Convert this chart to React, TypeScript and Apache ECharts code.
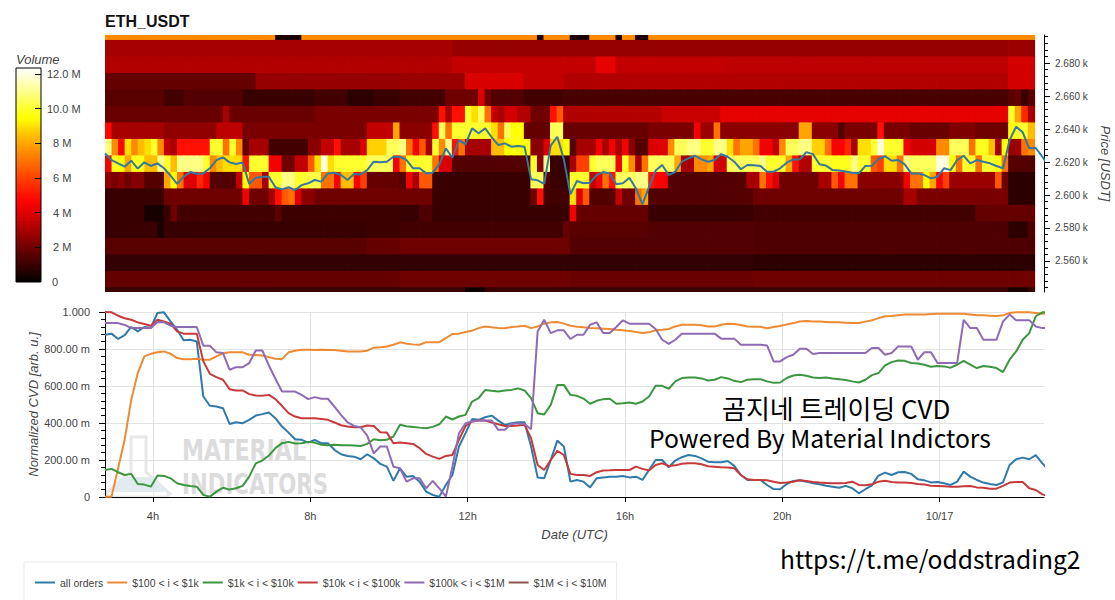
import React, { useEffect, useRef } from "react";
import * as echarts from "echarts";

// ---------- axis data ----------
const startHour = 2.78;
const endHour = 26.655;
const cellHours = 0.1664;
const timeTicks = [4, 8, 12, 16, 20, 24];
const priceTicks = [2560, 2580, 2600, 2620, 2640, 2660, 2680];
const priceMinorTicks = [2544, 2548, 2552, 2556, 2564, 2568, 2572, 2576, 2584, 2588, 2592, 2596, 2604, 2608, 2612, 2616, 2624, 2628, 2632, 2636, 2644, 2648, 2652, 2656, 2664, 2668, 2672, 2676, 2684, 2688, 2692, 2696];
const volumeTicks = [0, 2, 4, 6, 8, 10, 12];
const palette = ["#000000", "#350000", "#690000", "#9e0000", "#d30000", "#ff0400", "#ff3000", "#ff5f00", "#ff8f00", "#ffc000", "#ffff00", "#ffff55", "#ffffaa", "#ffffff"];
const volumeMax = 12.35;
const columnCount = 142;

// ---------- heat rows: pairs of [first column, volume in M] running until the next pair ----------
const r2694 = [0,7.5,26,.5,30,7.5,66,.5,67,7.5,71,.5,74,7.5,78,.5,79,7.5,81,.5,83,7.5];
const r2684 = [0,3.0,53,2.7,138,2.8];
const r2674 = [0,3.2,53,3.5,75,4.2,78,3.5,95,3.4,138,3.8];
const r2664 = [0,1.8,23,2.7,45,2.8,55,3.9,64,3.5,70,3.2,138,3.8];
const r2654 = [0,1.6,9,1.2,12,1.5,21,1.0,32,1.2,37,.8,41,1.0,45,1.2,52,2,57,4,58,2,59,1.5,64,1.2,70,1.3,138,1.6,139,1.8,140,1.0,141,1.6];
const r2644 = [0,1.9,18,3,19,1.9,32,2.2,51,5,52,3,53,5,55,10,56,9,57,10.5,58,7,59,3.5,60,3,61,3.8,63,3.2,65,2,68,5,69,6.5,70,3.2,85,3.6,94,4.2,138,10,139,8,140,5.5,141,3];
const r2634 = [0,4.8,1,3,9,2.6,17,3.4,21,2.2,40,3.5,44,8,45,2.5,50,5,51,10.5,52,7,53,10,59,9,60,7,61,10.5,62,9.5,64,1.8,68,10.5,70,1.9,83,2.2,90,4.5,91,2.8,93,7,94,2.5,106,8,108,2.5,112,1.5,113,2.2,118,5,119,2.2,123,1.9,129,2.3,133,2,138,9.5,139,10,141,8.5];
const r2624 = [0,11,1,7.5,2,4.8,3,9,4,7.5,5,8.5,6,9,7,10,8,7.5,9,3.5,10,3,11,5,16,10,18,7,19,10,20,7.5,21,1.8,22,3,25,1.2,31,2.5,33,3.5,35,5,36,3,39,4,40,8.8,43,10.5,45,11,46,7,47,4.5,48,6.5,49,3,50,10,51,7.5,52,11,53,5,54,7,55,3,59,8.5,61,9.5,65,2.5,67,4,68,9,70,9.5,71,1.5,72,3,75,4.5,76,3,77,4.5,78,3,79,4.5,80,2.5,81,1.5,83,4,86,7.5,87,10.5,89,11,91,10,93,11,95,9,96,7,97,8,99,7,100,4.5,102,3.5,103,7.5,104,10.5,106,11,108,8.8,110,7,111,4.6,113,5.5,114,3,115,9,117,10,118,12,119,10,122,4.5,123,3.8,127,7.5,129,10.5,132,7,133,9.8,135,8.5,136,3,137,9.5,138,2.8,140,7,141,7.5];
const r2614 = [0,4.5,1,9.8,2,9.5,3,8,4,9.8,6,8.5,8,11,9,10,10,8.5,11,11,15,10,16,7.5,17,8.5,18,9,21,5,22,10,25,4.5,27,2,29,3.5,31,6.5,32,9,33,12,34,9,35,10,40,10.5,44,4.5,45,7,46,10,50,7,51,4,53,1.5,65,10,66,2.5,67,11,68,1,71,3,72,6,74,10,75,10.5,78,4.5,79,10,80,7.5,81,3,82,7,83,10.5,87,8,88,3,90,7.5,92,8,93,3.8,95,10.5,100,11,101,10,104,8,105,5,106,3.2,108,10,111,9.8,114,11,115,10,117,6.5,118,6,119,9,121,7,122,11,123,10.5,127,12,129,9.5,130,7,131,10,133,7,134,10,136,9.5,137,7,138,1.5];
const r2604 = [0,2.5,1,2.2,2,2.5,3,2,4,2.4,6,1.5,9,8,10,9.5,11,7,12,4,14,5.5,15,4.5,16,1.5,20,3.5,21,9.5,22,6.5,24,3,25,10,27,11,29,10,31,10.3,33,7,35,4.5,36,8.5,38,4.5,39,6,40,1.8,45,1.5,46,4.5,47,3,48,6.5,50,1,65,10.5,67,1.5,68,1,71,10,74,3.5,75,4.5,76,7,77,5,78,10.5,81,11,83,5,84,4.6,86,1.5,98,3,100,7,101,5,102,4,103,2,109,3,111,6.5,112,4.5,113,7,115,2.5,122,4.5,123,7,125,9.5,126,8,127,4.5,128,6,129,2.8,136,6.5,137,2,138,.8];
const r2594 = [0,1,9,2,21,4.5,22,2,25,3,26,5,27,6.5,28,7,29,4,30,2.5,32,2,50,1,65,2,66,5,67,1.2,71,9,72,4,73,6.5,74,1.5,78,3.5,79,2,81,7,82,8,83,1.5,99,2,122,3,124,2.2,138,.8];
const r2584 = [0,1,6,.4,9,1,10,2,11,1.2,26,1.6,27,1.1,45,1,48,1.4,50,1,71,4.5,72,1.8,83,1,99,1.2,133,1.8];
const r2574 = [0,1,8,.5,9,1,40,1.1,45,1.2,70,1.8,71,1.6,83,1.5,99,1.4,138,.8,141,1.4];
const r2564 = [0,1.6,40,1.8,45,2,71,1.5,99,1.4];
const r2554 = [0,.9,99,.8];
const r2544 = [0,1.8,45,2,71,1.9,99,2];
const r2534 = [0,1,55,.2,58,1,138,.4,141,1];
const heatRows: [number, number[]][] = [[2694,r2694],[2684,r2684],[2674,r2674],[2664,r2664],[2654,r2654],[2644,r2644],[2634,r2634],[2624,r2624],[2614,r2614],[2604,r2604],[2594,r2594],[2584,r2584],[2574,r2574],[2564,r2564],[2554,r2554],[2544,r2544],[2534,r2534]];

// ---------- price line, one value per 10 minutes ----------
const priceLine = [2625.2,2621.2,2619.2,2617.2,2620.8,2616,2619.8,2617.6,2619.2,2616.2,2611.7,2606.7,2611.1,2613.9,2612.9,2613.1,2616.2,2621.2,2622.8,2619.8,2618.8,2619.8,2606.7,2610.5,2611.1,2611.1,2604.7,2603.4,2604.7,2603,2606,2607.1,2609.1,2608.1,2613.1,2613.5,2612.1,2609.1,2612.7,2612.5,2615.1,2620.2,2619.8,2620.2,2623.2,
2623.2,2621.2,2616.2,2616.2,2613.1,2613.5,2618.6,2628.3,2622.6,2633.3,2630.7,2640.4,2637.4,2640.4,2635,2630.3,2631.3,2629.3,2629.7,2629.3,2609.5,2608.9,2606.7,2629.9,2635.3,2621.6,2600.4,2608.5,2607.1,2607.5,2612.1,2613.9,2613.1,2606.5,2607.1,2610.5,2604,2594.5,2605,2614.8,2618.2,2612.1,2614.1,2620.2,2622.2,2623.8,2621.6,2620.2,2621.2,2624.8,2623.2,2620.2,2615.6,2618.2,
2618,2617.6,2614.1,2614.1,2616.2,2619.6,2621.6,2621.6,2626,2624.8,2618.6,2617.8,2615.1,2614.8,2614.3,2613.5,2613.1,2617.6,2617.8,2621.8,2623.6,2620.8,2621.2,2618.6,2613.1,2613.1,2612.1,2610.1,2611.1,2616.2,2615.1,2621.2,2623.8,2619.2,2621.2,2620.2,2619.2,2617.6,2616.2,2633.3,2641.4,2638,2628.3,2628.5,2623.2,2617.2];

// ---------- normalized CVD series, one value per 10 minutes ----------
const allOrders = [.877,.883,.854,.875,.919,.895,.919,.915,.995,.998,.949,.904,.847,.85,.841,.543,.493,.489,.48,.395,.404,.399,.417,.44,.448,.457,.426,.381,.348,.312,.309,.294,.309,.291,.291,.255,.231,.222,.218,.204,.231,.209,.179,.164,.087,
.155,.11,.114,.083,.029,.011,.002,.065,.119,.273,.345,.421,.417,.431,.44,.413,.39,.399,.404,.404,.273,.106,.101,.2,.305,.273,.083,.092,.083,.052,.101,.106,.11,.11,.114,.106,.11,.092,.146,.2,.2,.161,.197,.215,.227,.222,.209,.191,.188,.188,.195,.168,.119,.092,
.092,.092,.065,.043,.042,.07,.087,.09,.083,.074,.069,.061,.056,.05,.06,.047,.02,.042,.063,.116,.132,.119,.134,.135,.125,.096,.09,.079,.081,.074,.065,.083,.137,.11,.092,.078,.07,.065,.079,.173,.204,.213,.204,.226,.182,.146];
const tier100to1k = [.002,.002,.155,.309,.525,.67,.76,.774,.782,.787,.774,.751,.745,.745,.747,.742,.742,.76,.776,.782,.782,.782,.769,.767,.765,.756,.747,.745,.782,.791,.796,.796,.794,.796,.794,.794,.791,.787,.787,.787,.791,.807,.81,.814,.823,
.836,.829,.825,.823,.837,.836,.837,.859,.881,.883,.892,.899,.913,.922,.917,.913,.912,.919,.922,.926,.913,.922,.937,.944,.946,.937,.926,.92,.917,.913,.912,.91,.908,.904,.901,.897,.892,.886,.89,.901,.904,.908,.922,.931,.931,.931,.928,.922,.922,.931,.937,.935,.93,.922,
.92,.92,.912,.919,.924,.933,.94,.949,.951,.949,.948,.946,.944,.944,.942,.94,.94,.948,.955,.967,.977,.978,.982,.986,.986,.987,.987,.989,.991,.991,.991,.991,.991,.987,.982,.982,.98,.978,.982,.995,.998,.998,.998,.995,.991,.991];
const tier1kto10k = [.146,.152,.134,.119,.125,.07,.067,.056,.116,.114,.101,.074,.065,.06,.056,.011,.002,.029,.05,.04,.047,.06,.11,.182,.197,.224,.264,.291,.298,.289,.291,.298,.294,.282,.28,.282,.28,.28,.278,.276,.287,.312,.307,.309,.327,
.39,.383,.379,.375,.372,.379,.393,.435,.419,.435,.444,.516,.534,.579,.574,.57,.576,.579,.587,.576,.534,.453,.446,.498,.606,.606,.552,.547,.532,.504,.52,.529,.531,.504,.507,.511,.504,.516,.543,.601,.601,.585,.625,.643,.646,.646,.641,.63,.634,.648,.641,.628,.621,.634,
.637,.637,.625,.617,.619,.643,.657,.661,.655,.646,.643,.646,.641,.637,.632,.625,.619,.634,.659,.67,.711,.729,.738,.736,.724,.722,.715,.704,.708,.706,.699,.715,.736,.715,.697,.708,.704,.697,.675,.742,.787,.85,.886,.977,.998,.998];
const tier10kto100k = [1,.998,.98,.966,.958,.944,.935,.926,.958,.949,.937,.895,.883,.883,.883,.733,.666,.648,.634,.583,.576,.576,.556,.549,.547,.552,.529,.493,.453,.435,.426,.426,.426,.422,.417,.403,.388,.381,.377,.377,.386,.384,.35,.348,.291,
.294,.291,.287,.264,.233,.218,.206,.222,.227,.309,.384,.408,.413,.413,.403,.393,.384,.384,.386,.39,.318,.173,.146,.2,.249,.227,.125,.119,.119,.114,.134,.143,.144,.146,.146,.146,.164,.152,.143,.173,.182,.168,.171,.18,.182,.182,.177,.166,.164,.161,.159,.155,.119,.096,
.092,.092,.09,.083,.076,.079,.083,.09,.087,.081,.078,.076,.074,.074,.076,.083,.065,.063,.069,.083,.088,.081,.079,.079,.076,.07,.067,.061,.06,.058,.056,.056,.058,.06,.052,.05,.045,.045,.06,.078,.081,.081,.047,.038,.014,.002];
const tier100kto1M = [.94,.94,.94,.93,.913,.913,.913,.913,.946,.944,.926,.919,.919,.919,.919,.818,.818,.782,.778,.688,.702,.702,.724,.792,.792,.711,.639,.57,.57,.57,.552,.529,.54,.531,.531,.489,.444,.404,.384,.377,.332,.236,.273,.273,.164,
.155,.083,.101,.101,.047,.087,.047,.002,.164,.345,.399,.408,.413,.413,.413,.363,.363,.395,.399,.395,.366,.895,.958,.886,.901,.901,.854,.877,.877,.931,.944,.886,.886,.919,.955,.937,.937,.937,.937,.908,.85,.828,.85,.883,.883,.883,.883,.883,.883,.856,.856,.856,.823,.823,
.823,.823,.819,.733,.733,.756,.769,.801,.801,.773,.778,.778,.778,.778,.778,.778,.778,.778,.805,.805,.769,.778,.814,.814,.814,.742,.783,.783,.724,.724,.724,.724,.958,.913,.913,.85,.85,.85,.949,.986,.955,.955,.955,.922,.913,.913];
const tier1Mto10M: number[] = [];

const cvdSeries: [string, number[], string][] = [
  ["all orders", allOrders, "#2f7aa9"],
  ["$100 < i < $1k", tier100to1k, "#ee8a33"],
  ["$1k < i < $10k", tier1kto10k, "#3c953f"],
  ["$10k < i < $100k", tier10kto100k, "#c63a3c"],
  ["$100k < i < $1M", tier100kto1M, "#8f6bb3"],
  ["$1M < i < $10M", tier1Mto10M, "#8c564b"],
];

const TEXT = "#444444";
const FONT = "'Liberation Sans', Arial, sans-serif";
const KR = "'Noto Sans CJK KR', sans-serif";
const WM = "'DejaVu Sans', sans-serif";

function cellRenderer(params: any, api: any) {
  const a = api.coord([api.value(0), api.value(3)]);
  const b = api.coord([api.value(1), api.value(2)]);
  return {
    type: "rect",
    shape: { x: a[0], y: a[1], width: b[0] - a[0] + 0.8, height: b[1] - a[1] + 0.8 },
    style: { fill: api.visual("color") },
  };
}

function toTimed(values: number[]) {
  return values.map((v, i) => [startHour + i / 6, v]);
}

function buildOption() {
  const heatData: number[][] = [];
  heatRows.forEach(([low, runs]) => {
    for (let r = 0; r < runs.length; r += 2) {
      const from = runs[r];
      const to = r + 2 < runs.length ? runs[r + 2] : columnCount;
      for (let c = from; c < to; c++) {
        heatData.push([startHour + c * cellHours, startHour + (c + 1) * cellHours, low, low + 10, runs[r + 1]]);
      }
    }
  });
  const barData: number[][] = [];
  for (let k = 0; k < 124; k++) {
    const lv = k / 10;
    barData.push([0, 1, lv, Math.min(lv + 0.1, volumeMax), lv + 0.05]);
  }

  return {
    animation: false,
    backgroundColor: "#ffffff",
    textStyle: { fontFamily: FONT },
    title: {
      text: "ETH_USDT",
      left: 105,
      top: 13,
      padding: 0,
      textStyle: { fontSize: 16, fontWeight: "bold", color: "#111111", fontFamily: FONT },
    },
    legend: {
      left: 24,
      top: 562,
      padding: [15, 10, 15, 11],
      itemGap: 4,
      itemWidth: 20,
      itemHeight: 2,
      icon: "rect",
      borderColor: "#e8e8e8",
      borderWidth: 1,
      selectedMode: false,
      textStyle: { fontSize: 10.5, color: TEXT, fontFamily: FONT },
      data: cvdSeries.map((s) => s[0]),
    },
    visualMap: {
      show: false,
      type: "continuous",
      min: 0,
      max: volumeMax,
      dimension: 4,
      seriesIndex: [0, 2],
      inRange: { color: palette },
    },
    grid: [
      { left: 105, top: 35, width: 939, height: 257, outerBoundsMode: "none" },
      { left: 105, top: 312, width: 939, height: 185, outerBoundsMode: "none" },
      { left: 16, top: 68, width: 25, height: 214, show: true, borderColor: "#000000", borderWidth: 1, backgroundColor: "transparent", z: 10, outerBoundsMode: "none" },
    ],
    xAxis: [
      { type: "value", gridIndex: 0, min: startHour, max: endHour, show: false },
      {
        type: "value",
        gridIndex: 1,
        min: startHour,
        max: endHour,
        name: "Date (UTC)",
        nameLocation: "middle",
        nameGap: 31,
        nameTextStyle: { fontStyle: "italic", fontSize: 13, color: TEXT, fontFamily: FONT },
        axisLine: { onZero: false, lineStyle: { color: "#000000", width: 1 } },
        axisTick: { show: true, length: 5, lineStyle: { color: "#000000" }, customValues: timeTicks },
        axisLabel: {
          fontSize: 11,
          color: TEXT,
          margin: 13,
          customValues: timeTicks,
          formatter: (v: number) => (v === 24 ? "10/17" : `${v}h`),
        },
        splitLine: { show: true, lineStyle: { color: "#e3e3e3", width: 1 } },
      },
      { type: "value", gridIndex: 2, min: 0, max: 1, show: false },
    ],
    yAxis: [
      {
        type: "value",
        gridIndex: 0,
        position: "right",
        min: 2541.2,
        max: 2697,
        name: "Price [USDT]",
        nameLocation: "middle",
        nameGap: 54,
        nameRotate: -90,
        nameTextStyle: { fontStyle: "italic", fontSize: 13, color: TEXT, fontFamily: FONT },
        axisLine: { show: true, onZero: false, lineStyle: { color: "#000000", width: 1 } },
        axisTick: { show: true, length: 6, lineStyle: { color: "#000000" }, customValues: priceTicks },
        axisLabel: {
          fontSize: 10,
          color: TEXT,
          margin: 11,
          customValues: priceTicks,
          formatter: (v: number) => `${(v / 1000).toFixed(3)} k`,
        },
        splitLine: { show: false },
      },
      {
        type: "value",
        gridIndex: 0,
        position: "right",
        min: 2541.2,
        max: 2697,
        axisLine: { show: false },
        axisTick: { show: true, length: 4, lineStyle: { color: "#000000" }, customValues: priceMinorTicks },
        axisLabel: { show: false },
        splitLine: { show: false },
      },
      {
        type: "value",
        gridIndex: 1,
        min: 0,
        max: 1,
        interval: 0.2,
        name: "Normalized CVD [arb. u.]",
        nameLocation: "middle",
        nameGap: 65,
        nameMoveOverlap: false,
        nameTextStyle: { fontStyle: "italic", fontSize: 13, color: TEXT, fontFamily: FONT },
        axisLine: { show: true, onZero: false, lineStyle: { color: "#000000", width: 1 } },
        axisTick: { show: true, length: 6, lineStyle: { color: "#000000" } },
        minorTick: { show: true, splitNumber: 5, length: 4, lineStyle: { color: "#000000" } },
        axisLabel: {
          fontSize: 11,
          color: TEXT,
          margin: 15,
          formatter: (v: number) => (v === 0 ? "0" : v === 1 ? "1.000" : `${(v * 1000).toFixed(2)} m`),
        },
        splitLine: { show: true, lineStyle: { color: "#e3e3e3", width: 1 } },
      },
      {
        type: "value",
        gridIndex: 2,
        position: "right",
        min: 0,
        max: volumeMax,
        axisLine: { show: false },
        axisTick: { show: false },
        axisLabel: {
          fontSize: 11,
          color: TEXT,
          margin: 6,
          align: "left",
          customValues: volumeTicks,
          formatter: (v: number) => (v >= 10 ? `${v.toFixed(1)} M` : v === 0 ? "{z|0}" : `{u|${v} M}`),
          rich: {
            u: { fontSize: 11, color: TEXT, padding: [0, 0, 0, 6] },
            z: { fontSize: 11, color: TEXT, padding: [0, 0, 0, 5] },
          },
        },
        splitLine: { show: false },
      },
      {
        type: "value",
        gridIndex: 2,
        position: "left",
        offset: -25,
        z: 11,
        min: 0,
        max: volumeMax,
        axisLine: { show: false },
        axisTick: { show: true, length: 6, lineStyle: { color: "#000000" }, customValues: [2, 4, 6, 8, 10, 12] },
        axisLabel: { show: false },
        splitLine: { show: false },
      },
    ],
    graphic: [
      {
        type: "text",
        x: 16,
        y: 53,
        silent: true,
        style: { text: "Volume", fontSize: 13, fontStyle: "italic", fontFamily: FONT, fill: TEXT },
      },
      {
        type: "polygon",
        z: 0,
        silent: true,
        shape: { points: [[131, 437], [146, 437], [146, 472], [170, 494], [166, 497], [109, 497], [105, 494], [131, 472]] },
        style: { fill: "#ffffff", stroke: "#e8e8e8", lineWidth: 3 },
      },
      {
        type: "polygon",
        z: 0,
        silent: true,
        shape: { points: [[121, 477], [155, 477], [166, 492], [110, 492]] },
        style: { fill: "#e2ebf0" },
      },
      {
        type: "text",
        x: 182,
        y: 437,
        z: 0,
        scaleX: 0.79,
        silent: true,
        style: { text: "MATERIAL", fontSize: 28, fontWeight: "bold", fontFamily: WM, fill: "#dcdcdc" },
      },
      {
        type: "text",
        x: 182,
        y: 470,
        z: 0,
        scaleX: 0.76,
        silent: true,
        style: { text: "INDICATORS", fontSize: 28, fontWeight: "bold", fontFamily: WM, fill: "#dcdcdc" },
      },
      {
        type: "text",
        x: 722,
        y: 394,
        z: 20,
        silent: true,
        style: { text: "곰지네 트레이딩 CVD", fontSize: 26, fontFamily: KR, fill: "#000000" },
      },
      {
        type: "text",
        x: 649,
        y: 425,
        z: 20,
        silent: true,
        style: { text: "Powered By Material Indictors", fontSize: 24.7, fontFamily: KR, fill: "#000000" },
      },
      {
        type: "text",
        x: 780,
        y: 546,
        z: 20,
        silent: true,
        style: { text: "https://t.me/oddstrading2", fontSize: 24.6, fontFamily: KR, fill: "#000000" },
      },
    ],
    series: [
      {
        type: "custom",
        name: "heat",
        xAxisIndex: 0,
        yAxisIndex: 0,
        clip: true,
        renderItem: cellRenderer,
        encode: { x: [0, 1], y: [2, 3] },
        data: heatData,
        silent: true,
      },
      {
        type: "line",
        name: "price",
        xAxisIndex: 0,
        yAxisIndex: 0,
        data: toTimed(priceLine),
        showSymbol: false,
        clip: true,
        color: "#34789f",
        lineStyle: { width: 2 },
        z: 5,
        silent: true,
      },
      {
        type: "custom",
        name: "colorbar",
        xAxisIndex: 2,
        yAxisIndex: 3,
        clip: true,
        renderItem: cellRenderer,
        encode: { x: [0, 1], y: [2, 3] },
        data: barData,
        silent: true,
      },
      ...cvdSeries.map(([name, values, color]) => ({
        type: "line",
        name,
        xAxisIndex: 1,
        yAxisIndex: 2,
        data: toTimed(values),
        showSymbol: false,
        clip: true,
        color,
        itemStyle: { color },
        lineStyle: { width: 2, color },
        silent: true,
      })),
    ],
  };
}

export default function App() {
  const ref = useRef<HTMLDivElement>(null);
  useEffect(() => {
    document.body.style.margin = "0";
    const chart = echarts.init(ref.current!, undefined, { renderer: "svg" });
    chart.setOption(buildOption() as any);
    return () => chart.dispose();
  }, []);
  return <div ref={ref} style={{ width: 1115, height: 600 }} />;
}
